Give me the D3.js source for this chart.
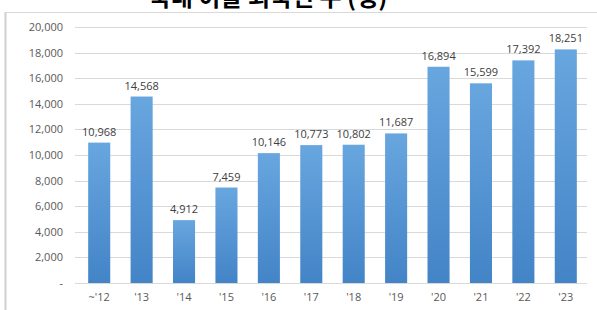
<!DOCTYPE html>
<html>
<head>
<meta charset="utf-8">
<script src="https://cdn.jsdelivr.net/npm/d3@7"></script>
<style>
  body { margin: 0; background: #fff; }
  svg text { font-family: "Open Sans", "Noto Sans", sans-serif; }
</style>
</head>
<body>
<svg id="chart" width="597" height="310"></svg>
<script>
var years = ["~'12", "'13", "'14", "'15", "'16", "'17", "'18", "'19", "'20", "'21", "'22", "'23"];
var counts = [10968, 14568, 4912, 7459, 10146, 10773, 10802, 11687, 16894, 15599, 17392, 18251];
var yTicks = [0, 2000, 4000, 6000, 8000, 10000, 12000, 14000, 16000, 18000, 20000];
var title = "국내 이탈 외국인 수 (명)";

var data = years.map(function(y, i) { return {year: y, value: counts[i]}; });

var svg = d3.select("#chart"),
  margin = {top: 27, right: 10, bottom: 27, left: 78},
  width = +svg.attr("width") - margin.left - margin.right,
  height = +svg.attr("height") - margin.top - margin.bottom;

// title is cropped at the top edge, as in the source image
svg.append("text")
  .attr("x", 268).attr("y", 6)
  .attr("text-anchor", "middle")
  .style("font-family", "'Noto Sans CJK KR', sans-serif")
  .style("font-weight", "bold")
  .style("font-size", "24px")
  .attr("fill", "#000")
  .text(title);

svg.append("line").attr("x1", 5).attr("x2", 597).attr("y1", 12.5).attr("y2", 12.5)
  .attr("stroke", "#d9d9d9").attr("stroke-width", 1);
svg.append("line").attr("x1", 5.5).attr("x2", 5.5).attr("y1", 12).attr("y2", 310)
  .attr("stroke", "#cfcfcf").attr("stroke-width", 2);

var defs = svg.append("defs");
var grad = defs.append("linearGradient").attr("id", "barGrad")
  .attr("x1", 0).attr("y1", 0).attr("x2", 0).attr("y2", 1);
grad.append("stop").attr("offset", "0%").attr("stop-color", "#68a6df");
grad.append("stop").attr("offset", "100%").attr("stop-color", "#4384c7");

var g = svg.append("g").attr("transform", "translate(" + margin.left + "," + margin.top + ")");

var x = d3.scaleBand()
  .domain(years)
  .range([0, width])
  .paddingInner(0.48)
  .paddingOuter(0.24);

var y = d3.scaleLinear()
  .domain([0, 20000])
  .range([height, 0]);

// gridlines
g.append("g")
  .selectAll("line")
  .data(yTicks)
  .enter().append("line")
    .attr("x1", -3).attr("x2", width)
    .attr("y1", function(d) { return Math.round(y(d)) + 0.5; })
    .attr("y2", function(d) { return Math.round(y(d)) + 0.5; })
    .attr("stroke", "#d9d9d9");

// y axis labels
g.append("g")
  .call(d3.axisLeft(y).tickValues(yTicks).tickSize(0).tickPadding(15)
    .tickFormat(function(d) { return d === 0 ? "-" : d3.format(",")(d); }))
  .call(function(a) { a.select(".domain").remove(); })
  .selectAll("text")
    .attr("fill", "#595959")
    .style("font-size", "11px");

// bars
g.selectAll(".bar")
  .data(data)
  .enter().append("rect")
    .attr("class", "bar")
    .attr("x", function(d) { return x(d.year); })
    .attr("y", function(d) { return y(d.value); })
    .attr("width", x.bandwidth())
    .attr("height", function(d) { return height - y(d.value); })
    .attr("fill", "url(#barGrad)");

// value labels
g.selectAll(".val")
  .data(data)
  .enter().append("text")
    .attr("class", "val")
    .attr("x", function(d) { return x(d.year) + x.bandwidth() / 2; })
    .attr("y", function(d) { return y(d.value) - 7; })
    .attr("text-anchor", "middle")
    .attr("fill", "#404040")
    .style("font-size", "11px")
    .text(function(d) { return d3.format(",")(d.value); });

// x axis
g.append("g")
  .attr("transform", "translate(0," + height + ")")
  .call(d3.axisBottom(x).tickSize(0).tickPadding(10))
  .call(function(a) { a.select(".domain").remove(); })
  .selectAll("text")
    .attr("fill", "#595959")
    .style("font-size", "11px");
</script>
</body>
</html>
